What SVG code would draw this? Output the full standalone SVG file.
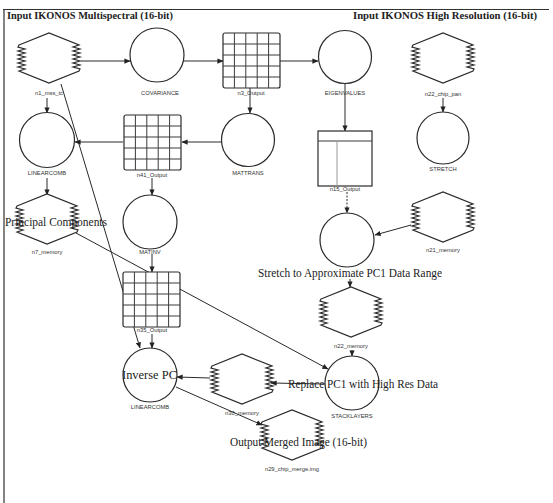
<svg xmlns="http://www.w3.org/2000/svg" width="553" height="503" viewBox="0 0 553 503">
<style>
.ln{stroke:#2a2a2a;stroke-width:1;fill:none}
.nd{stroke:#2a2a2a;stroke-width:1.2;fill:#fff}
.gl{stroke:#3a3a3a;stroke-width:1;fill:none}
.lb{font-family:"Liberation Sans",Arial,sans-serif;font-size:5.8px;fill:#333;text-anchor:middle}
.tt{font-family:"Liberation Serif","Times New Roman",serif;font-weight:bold;font-size:10px;fill:#222}
.ov{font-family:"Liberation Serif","Times New Roman",serif;font-size:11.5px;fill:#222}
</style>
<defs>
<marker id="ah" viewBox="0 0 8 8" refX="7.5" refY="4" markerWidth="6" markerHeight="6" orient="auto" markerUnits="userSpaceOnUse">
<path d="M0,0.5 L8,4 L0,7.5 z" fill="#222"/>
</marker>
<g id="hex">
<path class="nd" d="M-30,-13 L0,-25 L30,-13 L24,-11 L31,-9 L24,-7 L31,-5 L24,-3 L31,-1 L24,1 L31,3 L24,5 L31,7 L24,9 L31,11 L30,13 L0,25 L-30,13 L-24,11 L-31,9 L-24,7 L-31,5 L-24,3 L-31,1 L-24,-1 L-31,-3 L-24,-5 L-31,-7 L-24,-9 L-31,-11 Z"/>
</g>
<g id="grid">
<rect x="0" y="0" width="57" height="55" rx="2" class="nd"/>
<path class="gl" d="M11.4,0V55M22.8,0V55M34.2,0V55M45.6,0V55M0,11H57M0,22H57M0,33H57M0,44H57"/>
</g>
</defs>
<rect x="0" y="0" width="553" height="503" fill="#fff"/>
<path d="M3,9.5H549M4,9V503" stroke="#333" stroke-width="1.2" fill="none"/>
<text class="tt" x="7" y="19" textLength="166" lengthAdjust="spacingAndGlyphs">Input IKONOS Multispectral (16-bit)</text>
<text class="tt" x="353" y="19" textLength="184" lengthAdjust="spacingAndGlyphs">Input IKONOS High Resolution (16-bit)</text>

<g id="connectors">
<line class="ln" x1="81" y1="61" x2="130" y2="61" marker-end="url(#ah)"/>
<line class="ln" x1="184" y1="61" x2="223" y2="61" marker-end="url(#ah)"/>
<line class="ln" x1="280" y1="61" x2="318" y2="61" marker-end="url(#ah)"/>
<line class="ln" x1="250" y1="88" x2="250" y2="113" marker-end="url(#ah)"/>
<line class="ln" x1="345" y1="84" x2="345" y2="131" marker-end="url(#ah)"/>
<line class="ln" x1="443" y1="98" x2="443" y2="112" marker-end="url(#ah)"/>
<line class="ln" x1="47" y1="98" x2="47" y2="113" marker-end="url(#ah)"/>
<line class="ln" x1="61" y1="84" x2="140" y2="348" marker-end="url(#ah)"/>
<line class="ln" x1="123" y1="142" x2="75" y2="142" marker-end="url(#ah)"/>
<line class="ln" x1="222" y1="142" x2="182" y2="142" marker-end="url(#ah)"/>
<line class="ln" x1="152" y1="178" x2="152" y2="195" marker-end="url(#ah)"/>
<line class="ln" x1="47" y1="178" x2="47" y2="195" marker-end="url(#ah)"/>
<line class="ln" x1="152" y1="254" x2="152" y2="272" marker-end="url(#ah)"/>
<line class="ln" x1="152" y1="334" x2="152" y2="348" marker-end="url(#ah)"/>
<line class="ln" x1="76" y1="233" x2="328" y2="369" marker-end="url(#ah)"/>
<line class="ln" x1="347" y1="192" x2="347" y2="213" marker-end="url(#ah)" stroke-dasharray="2,1.5"/>
<line class="ln" x1="411" y1="225" x2="375" y2="235" marker-end="url(#ah)"/>
<line class="ln" x1="350" y1="279" x2="350" y2="287" marker-end="url(#ah)"/>
<line class="ln" x1="352" y1="350" x2="352" y2="356" marker-end="url(#ah)"/>
<line class="ln" x1="325" y1="384" x2="271" y2="383" marker-end="url(#ah)"/>
<line class="ln" x1="210" y1="378" x2="177" y2="377" marker-end="url(#ah)"/>
<line class="ln" x1="176" y1="387" x2="262" y2="425" marker-end="url(#ah)"/>
</g>

<g id="n1"><use href="#hex" x="49" y="58"/><text class="lb" x="49" y="95">n1_mss_tc</text></g>
<g id="covariance"><circle class="nd" cx="157" cy="55" r="27"/><text class="lb" x="160" y="95">COVARIANCE</text></g>
<g id="n3"><use href="#grid" x="223" y="33"/><text class="lb" x="251" y="95">n3_Output</text></g>
<g id="eigen"><circle class="nd" cx="345" cy="57" r="26.5"/><text class="lb" x="345" y="95">EIGENVALUES</text></g>
<g id="n22chip"><use href="#hex" x="443" y="58"/><text class="lb" x="443" y="96">n22_chip_pan</text></g>
<g id="uncat"><circle class="nd" cx="47" cy="140" r="27.5"/><text class="lb" x="47" y="175">LINEARCOMB</text></g>
<g id="n41"><use href="#grid" x="124" y="115"/><text class="lb" x="152" y="177">n41_Output</text></g>
<g id="mattrans"><circle class="nd" cx="248" cy="140" r="26.5"/><text class="lb" x="248" y="175">MATTRANS</text></g>
<g id="n15"><rect class="nd" x="318" y="131" width="54" height="55"/><path d="M318,141H372" class="gl"/><path d="M337,141V186" stroke="#999" stroke-width="1"/><text class="lb" x="345" y="191">n15_Output</text></g>
<g id="stretch"><circle class="nd" cx="443" cy="138" r="26"/><text class="lb" x="443" y="171">STRETCH</text></g>
<g id="n7"><use href="#hex" x="47" y="219"/><text class="lb" x="47" y="254">n7_memory</text></g>
<g id="matinv"><circle class="nd" cx="150" cy="222" r="27"/><text class="lb" x="150" y="254">MATINV</text></g>
<g id="n21"><use href="#hex" x="443" y="217"/><text class="lb" x="443" y="252">n21_memory</text></g>
<g id="n35"><use href="#grid" x="123" y="272"/><text class="lb" x="152" y="332">n35_Output</text></g>
<g id="stretchpc1"><circle class="nd" cx="347" cy="240" r="27"/></g>
<g id="n22mem"><use href="#hex" x="351" y="312"/><text class="lb" x="351" y="348">n22_memory</text></g>
<g id="stack"><circle class="nd" cx="352" cy="383" r="27"/><text class="lb" x="352" y="418">STACKLAYERS</text></g>
<g id="n30"><use href="#hex" x="242" y="379"/><text class="lb" x="242" y="415">n30_memory</text></g>
<g id="invpc"><circle class="nd" cx="150" cy="375" r="27"/><text class="lb" x="150" y="409">LINEARCOMB</text></g>
<g id="n29"><use href="#hex" x="292" y="435"/><text class="lb" x="292" y="471">n29_chip_merge.img</text></g>

<text class="ov" x="5" y="226" textLength="102" lengthAdjust="spacingAndGlyphs">Principal Components</text>
<text class="ov" x="258" y="277" textLength="184" lengthAdjust="spacingAndGlyphs">Stretch to Approximate PC1 Data Range</text>
<text class="ov" x="288" y="388" textLength="150" lengthAdjust="spacingAndGlyphs">Replace PC1 with High Res Data</text>
<text class="ov" x="122" y="379" textLength="55" lengthAdjust="spacingAndGlyphs">Inverse PC</text>
<text class="ov" x="230" y="446" textLength="137" lengthAdjust="spacingAndGlyphs">Output Merged Image (16-bit)</text>
</svg>
